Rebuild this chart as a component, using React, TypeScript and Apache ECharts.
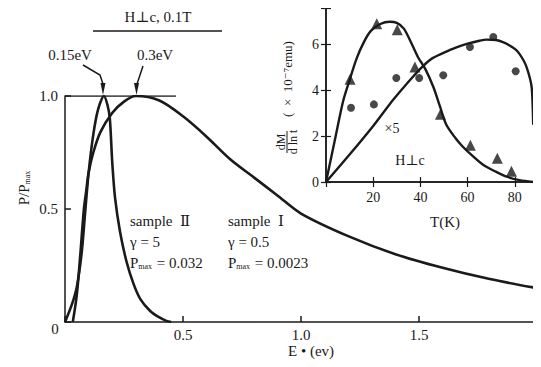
import React, { useEffect, useRef } from "react";
import * as echarts from "echarts";

// Main chart: P/Pmax vs E (eV)
const sampleIE = [0.033, 0.05, 0.065, 0.08, 0.09, 0.1, 0.12, 0.15, 0.2, 0.25, 0.3, 0.4, 0.5, 0.6, 0.7, 0.8, 0.9, 1.0, 1.2, 1.4, 1.6, 1.8, 2.0];
const sampleIP = [0, 0.12, 0.3, 0.5, 0.58, 0.66, 0.75, 0.84, 0.925, 0.975, 1.0, 0.98, 0.91, 0.82, 0.72, 0.64, 0.56, 0.48, 0.38, 0.3, 0.24, 0.19, 0.15];
const sampleIIE = [0.0, 0.03, 0.05, 0.07, 0.085, 0.1, 0.12, 0.14, 0.165, 0.18, 0.19, 0.2, 0.212, 0.233, 0.26, 0.29, 0.32, 0.36, 0.4, 0.43, 0.45];
const sampleIIP = [0, 0.08, 0.155, 0.3, 0.48, 0.66, 0.83, 0.94, 1.0, 0.96, 0.9, 0.71, 0.55, 0.4, 0.27, 0.17, 0.1, 0.05, 0.02, 0.005, 0];
const topLineE = [0, 0.47];
const topLineP = [1, 1];
const rightLineE = [2, 2];
const rightLineP = [0, 0.455];
const mainXTicks = [0.5, 1.0, 1.5];

// Inset: dM/dlnt vs T(K)
const triT = [10.2, 21.5, 30.2, 37.7, 48.5, 61.2, 72.6, 78.6];
const triV = [4.49, 6.91, 6.65, 5.02, 2.96, 1.6, 1.04, 0.47];
const dotT = [10.6, 20.3, 29.8, 39.5, 49.7, 61.0, 70.9, 80.4];
const dotV = [3.24, 3.39, 4.54, 4.54, 4.66, 5.9, 6.33, 4.84];
const triCurveT = [0, 4, 7.3, 10, 13, 16, 19, 23, 27, 30, 33, 36, 39, 42, 45.5, 48.3, 51, 55, 58, 62, 66.7, 72, 76.6, 82, 88];
const triCurveV = [0, 1.95, 3.55, 4.45, 5.4, 6.1, 6.6, 6.9, 7.0, 6.95, 6.7, 6.1, 5.45, 4.95, 4.15, 3.3, 2.5, 1.9, 1.54, 1.15, 0.74, 0.45, 0.23, 0.08, 0];
const dotCurveT = [0, 10, 20, 27, 31.4, 36, 41, 45, 50, 55, 60, 65, 68, 72, 75, 78, 81, 83.5, 85, 86.5, 87.2, 87.6, 87.8];
const dotCurveV = [0, 1.2, 2.45, 3.4, 3.95, 4.5, 5.05, 5.4, 5.65, 5.87, 6.04, 6.17, 6.22, 6.2, 6.11, 5.95, 5.72, 5.35, 5.02, 4.5, 4.1, 3.3, 2.5];

const zip = (a: number[], b: number[]) => a.map((v, i) => [v, b[i]]);
const FONT = "'Liberation Serif', 'DejaVu Serif', serif";
const INK = "#1a1a1a";

export default function App() {
  const ref = useRef<HTMLDivElement>(null);
  useEffect(() => {
    if (!ref.current) return;
    const chart = echarts.init(ref.current, undefined, { renderer: "svg" });
    const axisLine = { show: true, lineStyle: { color: INK, width: 1.5 } };
    const txt = (text: string, x: number, y: number, size = 15, extra: any = {}) => ({
      type: "text",
      x,
      y,
      style: { text, fontFamily: FONT, fontSize: size, fill: INK, align: "center", verticalAlign: "middle", ...extra },
    });
    const richP = (val: string, x: number, y: number) => ({
      type: "text",
      x,
      y,
      style: {
        text: "{p|P}{s|max}{p|" + val + "}",
        fontFamily: FONT,
        fill: INK,
        align: "left",
        verticalAlign: "middle",
        rich: {
          p: { fontSize: 15, fontFamily: FONT, fill: INK },
          s: { fontSize: 8, fontFamily: FONT, fill: INK, padding: [7, 1, 0, 0] },
        },
      },
    });
    chart.setOption({
      animation: false,
      backgroundColor: "#ffffff",
      grid: [
        { left: 65, top: 96, width: 472, height: 226 },
        { left: 326, top: 8, width: 210, height: 174 },
      ],
      xAxis: [
        {
          gridIndex: 0,
          type: "value",
          min: 0,
          max: 2,
          interval: 0.5,
          axisLine,
          axisTick: { show: true, inside: true, length: 6, lineStyle: { color: INK, width: 1.5 } },
          splitLine: { show: false },
          axisLabel: {
            margin: 5,
            fontFamily: FONT,
            fontSize: 15,
            color: INK,
            formatter: (v: number) => (mainXTicks.some((t) => Math.abs(t - v) < 1e-6) ? v.toFixed(1) : ""),
          },
        },
        {
          gridIndex: 1,
          type: "value",
          min: 0,
          max: 89,
          interval: 20,
          axisLine,
          axisTick: { show: true, inside: true, length: 5, lineStyle: { color: INK, width: 1.2 } },
          splitLine: { show: false },
          axisLabel: {
            margin: 8,
            fontFamily: FONT,
            fontSize: 14,
            color: INK,
            formatter: (v: number) => (v > 0 && v % 20 === 0 ? String(v) : ""),
          },
        },
        {
          gridIndex: 1,
          type: "value",
          position: "top",
          min: 0,
          max: 89,
          interval: 20,
          axisLine,
          axisTick: { show: true, inside: true, length: 5, lineStyle: { color: INK, width: 1.2 } },
          splitLine: { show: false },
          axisLabel: { show: false },
        },
      ],
      yAxis: [
        {
          gridIndex: 0,
          type: "value",
          min: 0,
          max: 1,
          interval: 0.5,
          axisLine,
          axisTick: { show: true, inside: true, length: 6, lineStyle: { color: INK, width: 1.5 } },
          splitLine: { show: false },
          axisLabel: {
            margin: 7,
            fontFamily: FONT,
            fontSize: 15,
            color: INK,
            formatter: (v: number) => (v === 0 ? "" : v.toFixed(1)),
          },
        },
        {
          gridIndex: 1,
          type: "value",
          min: 0,
          max: 7.6,
          interval: 2,
          axisLine,
          axisTick: { show: true, inside: true, length: 5, lineStyle: { color: INK, width: 1.2 } },
          splitLine: { show: false },
          axisLabel: {
            margin: 7,
            fontFamily: FONT,
            fontSize: 14,
            color: INK,
            formatter: (v: number) => (v % 2 === 0 ? String(v) : ""),
          },
        },
        {
          gridIndex: 1,
          type: "value",
          position: "right",
          min: 0,
          max: 7.6,
          interval: 2,
          axisLine,
          axisTick: { show: true, inside: true, length: 5, lineStyle: { color: INK, width: 1.2 } },
          splitLine: { show: false },
          axisLabel: { show: false },
        },
      ],
      series: [
        {
          type: "line",
          xAxisIndex: 0,
          yAxisIndex: 0,
          data: zip(sampleIE, sampleIP),
          smooth: 0.3,
          showSymbol: false,
          lineStyle: { color: INK, width: 2.6 },
        },
        {
          type: "line",
          xAxisIndex: 0,
          yAxisIndex: 0,
          data: zip(sampleIIE, sampleIIP),
          smooth: 0.3,
          showSymbol: false,
          lineStyle: { color: INK, width: 2.6 },
        },
        {
          type: "line",
          xAxisIndex: 0,
          yAxisIndex: 0,
          data: zip(topLineE, topLineP),
          showSymbol: false,
          lineStyle: { color: INK, width: 1.5 },
        },
        {
          type: "line",
          xAxisIndex: 0,
          yAxisIndex: 0,
          data: zip(rightLineE, rightLineP),
          showSymbol: false,
          lineStyle: { color: INK, width: 1.5 },
        },
        {
          type: "line",
          xAxisIndex: 1,
          yAxisIndex: 1,
          data: zip(triCurveT, triCurveV),
          smooth: 0.3,
          showSymbol: false,
          lineStyle: { color: INK, width: 2.4 },
        },
        {
          type: "line",
          xAxisIndex: 1,
          yAxisIndex: 1,
          data: zip(dotCurveT, dotCurveV),
          smooth: 0.3,
          showSymbol: false,
          lineStyle: { color: INK, width: 2.4 },
        },
        {
          type: "scatter",
          xAxisIndex: 1,
          yAxisIndex: 1,
          data: zip(triT, triV),
          symbol: "triangle",
          symbolSize: 11,
          itemStyle: { color: INK },
        },
        {
          type: "scatter",
          xAxisIndex: 1,
          yAxisIndex: 1,
          data: zip(dotT, dotV),
          symbol: "circle",
          symbolSize: 8,
          itemStyle: { color: INK },
        },
      ],
      graphic: [
        txt("H\u22a5c, 0.1T", 158, 17, 15),
        { type: "line", shape: { x1: 93, y1: 31, x2: 222, y2: 31 }, style: { stroke: INK, lineWidth: 1.6 } },
        txt("0.15eV", 70, 55, 15),
        txt("0.3eV", 155, 55, 15),
        { type: "polyline", shape: { points: [[83, 65], [100, 75], [103, 84]] }, style: { stroke: INK, lineWidth: 1.5, fill: null } },
        { type: "polygon", shape: { points: [[100.5, 83], [105.5, 83], [103, 95]] }, style: { fill: INK } },
        { type: "polyline", shape: { points: [[143, 66], [137, 84]] }, style: { stroke: INK, lineWidth: 1.5, fill: null } },
        { type: "polygon", shape: { points: [[134, 83], [139, 83], [136.5, 95]] }, style: { fill: INK } },
        txt("0", 55, 329, 15),
        txt("sample  \u2161", 130, 221, 15, { align: "left" }),
        txt("\u03b3 = 5", 130, 242, 15, { align: "left" }),
        richP(" = 0.032", 130, 263),
        txt("sample  \u2160", 228, 221, 15, { align: "left" }),
        txt("\u03b3 = 0.5", 228, 242, 15, { align: "left" }),
        richP(" = 0.0023", 228, 263),
        txt("E \u2022 (ev)", 311, 351, 15),
        txt("T(K)", 445, 222, 15),
        txt("\u00d75", 392, 128, 14),
        txt("H\u22a5c", 410, 160, 14),
        {
          type: "group",
          x: 287,
          y: 142,
          rotation: Math.PI / 2,
          children: [
            txt("dM", 0, -6, 12),
            { type: "line", shape: { x1: -11, y1: 0, x2: 11, y2: 0 }, style: { stroke: INK, lineWidth: 1 } },
            txt("d ln t", 0, 6, 12),
          ],
        },
        {
          type: "text",
          x: 287,
          y: 79,
          rotation: Math.PI / 2,
          style: { text: "(  \u00d7  10\u207b\u2077emu)", fontFamily: FONT, fontSize: 13, fill: INK, align: "center", verticalAlign: "middle" },
        },
        {
          type: "text",
          x: 24,
          y: 188,
          rotation: Math.PI / 2,
          style: {
            text: "{p|P/P}{s|max}",
            fontFamily: FONT,
            fill: INK,
            align: "center",
            verticalAlign: "middle",
            rich: {
              p: { fontSize: 15, fontFamily: FONT, fill: INK },
              s: { fontSize: 8, fontFamily: FONT, fill: INK, padding: [7, 0, 0, 0] },
            },
          },
        },
      ],
    });
    return () => chart.dispose();
  }, []);
  return <div ref={ref} style={{ width: 541, height: 367, margin: -8 }} />;
}
